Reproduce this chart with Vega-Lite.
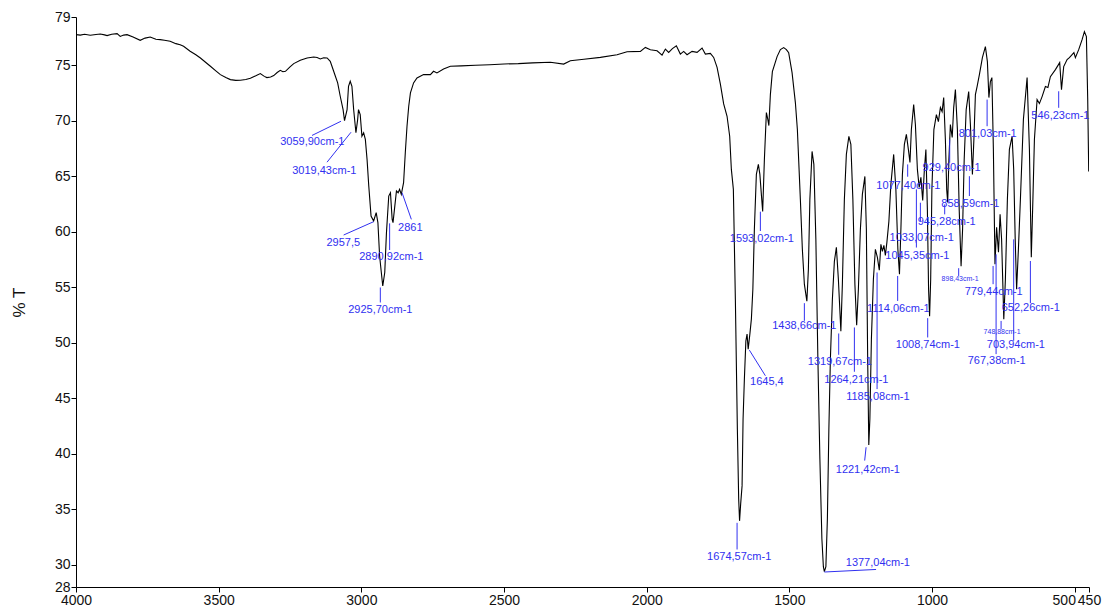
{
  "$schema": "https://vega.github.io/schema/vega-lite/v6.json",
  "width": 1013,
  "height": 570,
  "autosize": {"type": "none"},
  "padding": {"left": 76, "top": 17, "right": 13, "bottom": 26},
  "background": "white",
  "config": {"view": {"stroke": null}, "font": "Liberation Sans"},
  "datasets": {
    "spectrum": [
      {"wn":4000,"t":77.76},{"wn":3985,"t":77.72},{"wn":3970,"t":77.8},{"wn":3950,"t":77.7},{"wn":3930,"t":77.78},{"wn":3915,"t":77.82},{"wn":3900,"t":77.74},{"wn":3891,"t":77.67},{"wn":3875,"t":77.8},{"wn":3856,"t":77.85},{"wn":3845,"t":77.6},{"wn":3833,"t":77.72},{"wn":3821,"t":77.76},{"wn":3800,"t":77.55},{"wn":3775,"t":77.25},{"wn":3758,"t":77.45},{"wn":3740,"t":77.55},{"wn":3720,"t":77.35},{"wn":3705,"t":77.31},{"wn":3690,"t":77.25},{"wn":3670,"t":77.16},{"wn":3650,"t":76.95},{"wn":3635,"t":76.85},{"wn":3623,"t":76.71},{"wn":3600,"t":76.26},{"wn":3580,"t":75.95},{"wn":3564,"t":75.66},{"wn":3545,"t":75.25},{"wn":3529,"t":74.91},{"wn":3510,"t":74.5},{"wn":3494,"t":74.16},{"wn":3475,"t":73.9},{"wn":3459,"t":73.71},{"wn":3440,"t":73.64},{"wn":3424,"t":73.65},{"wn":3405,"t":73.72},{"wn":3389,"t":73.83},{"wn":3370,"t":74.05},{"wn":3354,"t":74.25},{"wn":3340,"t":74.0},{"wn":3331,"t":73.89},{"wn":3318,"t":73.95},{"wn":3307,"t":74.07},{"wn":3295,"t":74.35},{"wn":3284,"t":74.55},{"wn":3275,"t":74.42},{"wn":3266,"t":74.46},{"wn":3250,"t":74.85},{"wn":3237,"t":75.15},{"wn":3214,"t":75.45},{"wn":3190,"t":75.65},{"wn":3167,"t":75.75},{"wn":3155,"t":75.7},{"wn":3144,"t":75.57},{"wn":3132,"t":75.68},{"wn":3120,"t":75.66},{"wn":3109,"t":75.36},
      {"wn":3103,"t":74.91},{"wn":3091,"t":74.01},{"wn":3083,"t":73.41},{"wn":3074,"t":72.21},{"wn":3064,"t":71.01},{"wn":3059,"t":70.02},{"wn":3050,"t":71.01},{"wn":3045,"t":73.11},{"wn":3039,"t":73.56},{"wn":3033,"t":73.11},{"wn":3027,"t":71.01},{"wn":3019,"t":68.92},{"wn":3013,"t":70.11},{"wn":3010,"t":71.01},{"wn":3004,"t":70.56},{"wn":2998,"t":68.61},{"wn":2992,"t":68.92},{"wn":2986,"t":68.32},{"wn":2980,"t":66.52},{"wn":2974,"t":64.12},{"wn":2966,"t":61.42},{"wn":2957,"t":60.97},{"wn":2948,"t":61.72},{"wn":2942,"t":60.83},{"wn":2936,"t":57.82},{"wn":2930,"t":56.33},{"wn":2925,"t":55.12},{"wn":2918,"t":56.33},{"wn":2912,"t":59.93},{"wn":2904,"t":63.22},{"wn":2898,"t":63.52},{"wn":2892,"t":61.12},{"wn":2889,"t":60.83},{"wn":2884,"t":62.02},{"wn":2877,"t":63.67},{"wn":2871,"t":63.52},{"wn":2866,"t":63.82},{"wn":2860,"t":63.37},{"wn":2852,"t":64.42},{"wn":2846,"t":67.12},{"wn":2840,"t":69.51},{"wn":2834,"t":71.31},{"wn":2828,"t":72.52},{"wn":2817,"t":73.41},{"wn":2805,"t":73.86},{"wn":2782,"t":74.16},{"wn":2758,"t":74.16},{"wn":2747,"t":74.46},{"wn":2735,"t":74.31},{"wn":2712,"t":74.67},{"wn":2688,"t":74.91},
      {"wn":2650,"t":74.95},{"wn":2600,"t":75.0},{"wn":2550,"t":75.05},{"wn":2500,"t":75.12},{"wn":2450,"t":75.15},{"wn":2400,"t":75.22},{"wn":2337.7,"t":75.28},{"wn":2291,"t":75.11},{"wn":2267.6,"t":75.41},{"wn":2220,"t":75.55},{"wn":2162.4,"t":75.71},{"wn":2103.9,"t":75.95},{"wn":2068.9,"t":76.22},{"wn":2022.2,"t":76.25},{"wn":2004.7,"t":76.61},{"wn":1987.2,"t":76.4},{"wn":1963.7,"t":76.31},{"wn":1946.2,"t":75.92},{"wn":1934.6,"t":76.46},{"wn":1923.0,"t":76.16},{"wn":1910,"t":76.5},{"wn":1896.1,"t":76.76},{"wn":1882.1,"t":76.01},{"wn":1870.5,"t":76.25},{"wn":1858.6,"t":75.95},{"wn":1841.1,"t":76.25},{"wn":1823.5,"t":76.16},{"wn":1806.0,"t":76.55},{"wn":1794.4,"t":76.01},{"wn":1776.9,"t":76.07},{"wn":1765.3,"t":75.71},{"wn":1753.4,"t":74.81},{"wn":1741.8,"t":73.31},{"wn":1730.3,"t":71.52},{"wn":1718.4,"t":70.41},{"wn":1709.2,"t":68.61},
      {"wn":1703.3,"t":65.62},{"wn":1696.3,"t":63.82},{"wn":1689.3,"t":53.93},{"wn":1682.3,"t":42.24},{"wn":1677.7,"t":35.94},{"wn":1674.6,"t":33.96},{"wn":1670.7,"t":35.49},{"wn":1665.8,"t":37.11},{"wn":1662.3,"t":43.14},{"wn":1657.7,"t":46.74},{"wn":1652.5,"t":50.15},{"wn":1648.3,"t":50.78},{"wn":1644.4,"t":49.43},{"wn":1638.5,"t":50.78},{"wn":1633.2,"t":52.13},{"wn":1628.0,"t":54.83},{"wn":1622.7,"t":60.22},{"wn":1615.7,"t":65.17},{"wn":1608.7,"t":66.07},{"wn":1603.4,"t":65.17},{"wn":1598.2,"t":63.37},{"wn":1593.6,"t":61.84},{"wn":1587.6,"t":66.52},{"wn":1580.6,"t":70.74},{"wn":1575.4,"t":70.11},{"wn":1571.9,"t":69.57},{"wn":1566.6,"t":72.36},{"wn":1559.6,"t":74.43},{"wn":1543.1,"t":75.78},{"wn":1531.5,"t":76.41},{"wn":1520.0,"t":76.59},{"wn":1510.5,"t":76.41},{"wn":1502.5,"t":76.14},{"wn":1490.6,"t":74.34},{"wn":1479.0,"t":71.64},
      {"wn":1472.0,"t":69.21},{"wn":1461.5,"t":62.92},{"wn":1454.5,"t":58.42},{"wn":1447.5,"t":55.28},{"wn":1438.7,"t":53.75},{"wn":1433.4,"t":56.62},{"wn":1428.2,"t":62.92},{"wn":1420.5,"t":67.24},{"wn":1414.2,"t":66.07},{"wn":1407.2,"t":59.32},{"wn":1400.1,"t":48.53},{"wn":1393.1,"t":39.54},{"wn":1386.1,"t":32.34},{"wn":1380.9,"t":29.83},{"wn":1377.4,"t":29.38},{"wn":1372.1,"t":29.83},{"wn":1366.8,"t":34.14},{"wn":1361.6,"t":42.24},{"wn":1356.3,"t":48.53},{"wn":1349.3,"t":53.93},{"wn":1342.3,"t":57.34},{"wn":1335.3,"t":58.6},{"wn":1328.3,"t":55.73},{"wn":1319.6,"t":51.05},{"wn":1314.3,"t":55.28},{"wn":1307.3,"t":62.92},{"wn":1300.3,"t":66.97},{"wn":1291.5,"t":68.59},{"wn":1284.5,"t":67.87},{"wn":1277.5,"t":62.92},{"wn":1270.4,"t":55.28},{"wn":1264.2,"t":51.59},{"wn":1258.2,"t":54.83},{"wn":1251.2,"t":60.22},{"wn":1244.2,"t":63.37},{"wn":1235.4,"t":64.99},{"wn":1230.2,"t":60.22},{"wn":1225.6,"t":48.53},{"wn":1221.7,"t":40.8},{"wn":1217.9,"t":43.14},{"wn":1212.6,"t":50.33},{"wn":1205.6,"t":55.73},{"wn":1198.6,"t":58.42},{"wn":1191.6,"t":57.7},{"wn":1184.9,"t":56.54},{"wn":1179.3,"t":58.87},{"wn":1174.1,"t":58.24},{"wn":1168.8,"t":58.78},{"wn":1163.6,"t":57.88},{"wn":1158.3,"t":59.05},{"wn":1151.3,"t":60.94},{"wn":1144.3,"t":64.27},{"wn":1134.5,"t":66.97},{"wn":1126.8,"t":63.82},{"wn":1119.8,"t":58.42},{"wn":1114.2,"t":56.18},{"wn":1109.2,"t":60.22},{"wn":1104.0,"t":65.17},{"wn":1097.0,"t":67.87},{"wn":1090.0,"t":68.77},{"wn":1083.0,"t":67.42},{"wn":1077.4,"t":66.25},{"wn":1072.5,"t":69.21},{"wn":1064.4,"t":71.46},{"wn":1058.4,"t":69.66},{"wn":1051.4,"t":65.62},{"wn":1045.1,"t":64.0},{"wn":1039.1,"t":64.9},{"wn":1032.8,"t":62.83},{"wn":1026.9,"t":65.62},{"wn":1021.6,"t":67.42},{"wn":1016.4,"t":62.02},{"wn":1012.2,"t":54.83},{"wn":1008.6,"t":52.4},{"wn":1004.8,"t":55.73},{"wn":1000.6,"t":63.82},{"wn":993.6,"t":69.21},{"wn":984.8,"t":70.56},{"wn":977.8,"t":69.93},{"wn":970.8,"t":71.19},{"wn":964.8,"t":70.83},{"wn":959.2,"t":72.09},{"wn":953.3,"t":68.32},{"wn":948.7,"t":63.82},{"wn":945.2,"t":62.65},{"wn":941.0,"t":66.52},{"wn":935.8,"t":69.66},{"wn":929.4,"t":68.5},{"wn":924.2,"t":71.19},{"wn":918.2,"t":72.81},{"wn":911.2,"t":69.21},{"wn":904.9,"t":62.02},{"wn":898.3,"t":56.89},{"wn":893.0,"t":60.22},{"wn":887.4,"t":66.52},{"wn":880.4,"t":71.01},{"wn":871.6,"t":72.63},{"wn":865.6,"t":69.66},{"wn":858.6,"t":65.17},{"wn":853.4,"t":68.32},{"wn":848.1,"t":72.36},{"wn":842.2,"t":73.08},{"wn":834.1,"t":74.16},{"wn":823.6,"t":75.69},{"wn":813.1,"t":76.68},{"wn":806.1,"t":75.33},{"wn":800.8,"t":72.09},{"wn":795.6,"t":73.53},{"wn":790.3,"t":73.89},{"wn":785.1,"t":67.42},{"wn":779.5,"t":57.07},{"wn":773.8,"t":60.4},{"wn":767.2,"t":58.15},{"wn":761.6,"t":61.57},{"wn":756.3,"t":59.32},{"wn":748.6,"t":52.13},{"wn":743.0,"t":55.73},{"wn":736.0,"t":62.92},{"wn":729.0,"t":67.42},{"wn":719.5,"t":68.59},{"wn":713.9,"t":65.62},{"wn":708.6,"t":59.32},{"wn":703.7,"t":54.83},{"wn":697.4,"t":58.42},{"wn":690.4,"t":62.92},{"wn":679.9,"t":70.11},{"wn":666.9,"t":73.89},{"wn":658.8,"t":67.42},{"wn":652.2,"t":57.7},{"wn":646.6,"t":62.92},{"wn":641.3,"t":68.32},{"wn":631.9,"t":71.91},{"wn":623.8,"t":71.55},{"wn":614.4,"t":72.18},{"wn":602.8,"t":73.08},{"wn":594.0,"t":72.99},{"wn":585.3,"t":73.98},{"wn":567.7,"t":74.61},{"wn":552.7,"t":75.24},{"wn":546.4,"t":72.81},{"wn":538.7,"t":74.88},{"wn":526.7,"t":75.51},{"wn":518.7,"t":75.69},{"wn":509.2,"t":75.96},{"wn":502.9,"t":76.14},{"wn":497.7,"t":75.69},{"wn":486.1,"t":76.41},{"wn":474.2,"t":77.31},{"wn":466.1,"t":78.03},{"wn":459.1,"t":77.58},{"wn":454.5,"t":71.91},{"wn":451.0,"t":65.44}
    ],
    "leaders": [
      {"wn":3071.2,"t":69.96,"wn2":3172.9,"t2":68.68},
      {"wn":3036.2,"t":68.97,"wn2":3120.3,"t2":66.27},
      {"wn":2957.0,"t":60.91,"wn2":3062.1,"t2":59.71},
      {"wn":2900.9,"t":60.76,"wn2":2900.9,"t2":58.36},
      {"wn":2857.4,"t":63.52,"wn2":2824.8,"t2":61.12},
      {"wn":2933.5,"t":54.98,"wn2":2933.5,"t2":53.63},
      {"wn":1601.7,"t":61.81,"wn2":1601.7,"t2":60.07},
      {"wn":1640.2,"t":49.34,"wn2":1584.1,"t2":47.03},
      {"wn":1447.5,"t":53.57,"wn2":1447.5,"t2":51.98},
      {"wn":1327.2,"t":50.84,"wn2":1327.2,"t2":48.92},
      {"wn":1272.2,"t":51.38,"wn2":1272.2,"t2":47.39},
      {"wn":1192.7,"t":56.33,"wn2":1192.7,"t2":45.83},
      {"wn":1120.5,"t":56.02,"wn2":1120.5,"t2":53.77},
      {"wn":1015.3,"t":52.22,"wn2":1015.3,"t2":50.48},
      {"wn":1054.9,"t":63.82,"wn2":1054.9,"t2":58.58},
      {"wn":1040.9,"t":62.62,"wn2":1040.9,"t2":60.97},
      {"wn":1085.4,"t":66.07,"wn2":1085.4,"t2":64.96},
      {"wn":955.7,"t":62.47,"wn2":955.7,"t2":61.57},
      {"wn":938.2,"t":68.32,"wn2":938.2,"t2":66.22},
      {"wn":869.2,"t":65.01,"wn2":869.2,"t2":63.22},
      {"wn":807.1,"t":71.91,"wn2":807.1,"t2":69.51},
      {"wn":556.2,"t":72.66,"wn2":556.2,"t2":71.17},
      {"wn":786.1,"t":56.92,"wn2":786.1,"t2":55.28},
      {"wn":655.4,"t":57.37,"wn2":655.4,"t2":53.57},
      {"wn":713.9,"t":59.32,"wn2":713.9,"t2":50.18},
      {"wn":775.6,"t":57.97,"wn2":775.6,"t2":48.98},
      {"wn":1231.2,"t":40.59,"wn2":1236.1,"t2":39.39},
      {"wn":1683.3,"t":33.78,"wn2":1683.3,"t2":31.38},
      {"wn":1377.4,"t":29.35,"wn2":1196.2,"t2":29.58},
      {"wn":906.7,"t":56.72,"wn2":906.7,"t2":56.02},
      {"wn":758.1,"t":51.97,"wn2":758.1,"t2":51.23}
    ],
    "labels": [
      {"label":"3059,90cm-1","wn":3171.8,"t":68.05},
      {"label":"3019,43cm-1","wn":3129.8,"t":65.44},
      {"label":"2957,5","wn":3063.2,"t":58.96},
      {"label":"2890,92cm-1","wn":2894.9,"t":57.7},
      {"label":"2861","wn":2828.3,"t":60.31},
      {"label":"2925,70cm-1","wn":2933.5,"t":52.94},
      {"label":"1593,02cm-1","wn":1596.4,"t":59.32},
      {"label":"1645,4","wn":1578.9,"t":46.46},
      {"label":"1438,66cm-1","wn":1447.5,"t":51.5},
      {"label":"1319,67cm-1","wn":1323.0,"t":48.26},
      {"label":"1264,21cm-1","wn":1265.2,"t":46.64},
      {"label":"1185,08cm-1","wn":1189.9,"t":45.11},
      {"label":"1114,06cm-1","wn":1118.0,"t":53.03},
      {"label":"1008,74cm-1","wn":1014.6,"t":49.79},
      {"label":"1045,35cm-1","wn":1051.4,"t":57.79},
      {"label":"1033,07cm-1","wn":1036.3,"t":59.48},
      {"label":"1077,40cm-1","wn":1083.0,"t":64.09},
      {"label":"945,28cm-1","wn":948.7,"t":60.85},
      {"label":"929,40cm-1","wn":931.5,"t":65.71},
      {"label":"858,59cm-1","wn":865.6,"t":62.47},
      {"label":"801,03cm-1","wn":805.0,"t":68.83},
      {"label":"546,23cm-1","wn":550.3,"t":70.41},
      {"label":"779,44cm-1","wn":784.0,"t":54.58},
      {"label":"652,26cm-1","wn":654.3,"t":53.09},
      {"label":"703,94cm-1","wn":706.2,"t":49.82},
      {"label":"767,38cm-1","wn":773.5,"t":48.38},
      {"label":"1221,42cm-1","wn":1224.9,"t":38.58},
      {"label":"1674,57cm-1","wn":1676.0,"t":30.7},
      {"label":"1377,04cm-1","wn":1189.9,"t":30.16}
    ],
    "smallLabels": [
      {"label":"898,43cm-1","wn":901.8,"t":55.73},
      {"label":"748,88cm-1","wn":754.6,"t":50.93}
    ]
  },
  "encoding": {
    "x": {
      "field": "wn", "type": "quantitative",
      "scale": {"domain": [450, 4000], "reverse": true, "nice": false, "zero": false},
      "axis": {
        "title": null, "grid": false,
        "values": [4000, 3500, 3000, 2500, 2000, 1500, 1000, 500, 450],
        "format": "d", "labelFlush": false, "labelOverlap": false,
        "labelFontSize": 14, "labelColor": "#111", "labelPadding": 1,
        "labelOffset": {"condition": {"test": "datum.value == 500", "value": -11}, "value": 0},
        "tickSize": 5, "tickColor": "#000", "domainColor": "#000"
      }
    },
    "y": {
      "field": "t", "type": "quantitative",
      "scale": {"domain": [28, 79.35], "nice": false, "zero": false},
      "axis": {
        "title": "% T", "grid": false,
        "values": [28, 30, 35, 40, 45, 50, 55, 60, 65, 70, 75, 79.35],
        "labelExpr": "format(datum.value, '.0f')",
        "labelFlush": false, "labelOverlap": false,
        "labelFontSize": 14, "labelColor": "#111", "labelPadding": 1,
        "tickSize": 5, "tickColor": "#000", "domainColor": "#000",
        "titleFontSize": 17, "titleFontWeight": "normal", "titleColor": "#111", "titlePadding": 26
      }
    }
  },
  "layer": [
    {
      "data": {"name": "spectrum"},
      "mark": {"type": "line", "color": "#000", "strokeWidth": 1.1, "clip": true}
    },
    {
      "data": {"name": "leaders"},
      "mark": {"type": "rule", "color": "#3030f0", "strokeWidth": 1},
      "encoding": {"x2": {"field": "wn2"}, "y2": {"field": "t2"}}
    },
    {
      "data": {"name": "labels"},
      "mark": {"type": "text", "color": "#3030f0", "fontSize": 11, "align": "center", "baseline": "middle"},
      "encoding": {"text": {"field": "label"}}
    },
    {
      "data": {"name": "smallLabels"},
      "mark": {"type": "text", "color": "#3030f0", "fontSize": 7, "align": "center", "baseline": "middle"},
      "encoding": {"text": {"field": "label"}}
    }
  ]
}
